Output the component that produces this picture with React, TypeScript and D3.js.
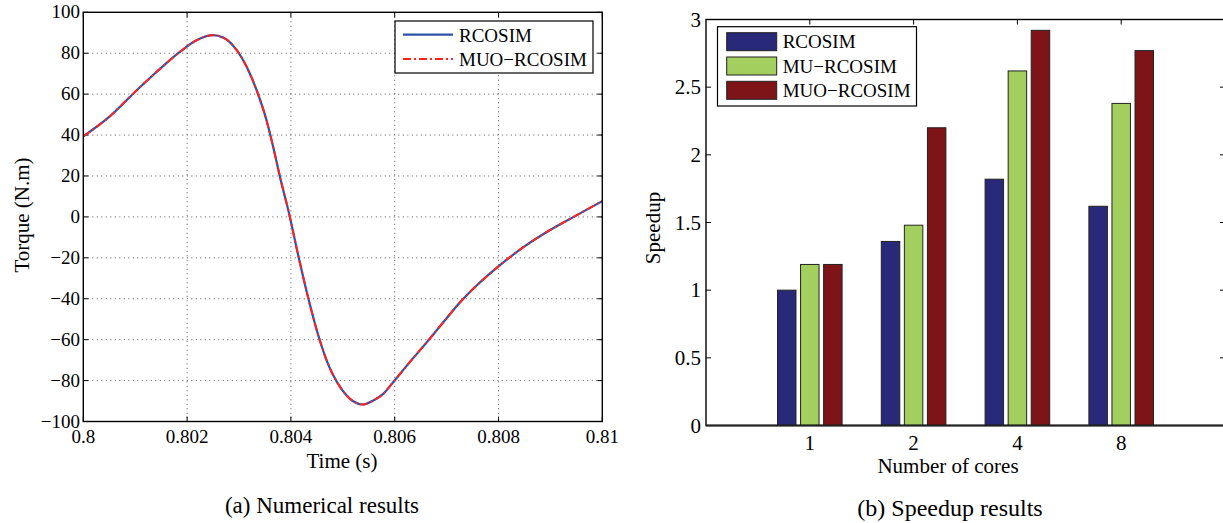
import React, { useRef, useEffect } from 'react'
import * as d3 from 'd3'

// torque trace (time in s, torque in N.m)
const timeValues = [0.8, 0.80051, 0.80096, 0.80141, 0.80186, 0.80218, 0.8025, 0.8027, 0.80296, 0.80315, 0.80334, 0.80353, 0.80366, 0.80379, 0.80395, 0.80416, 0.80433, 0.8045, 0.80469, 0.80495, 0.8052, 0.80539, 0.80559, 0.80578, 0.80597, 0.80629, 0.80662, 0.80694, 0.80726, 0.80758, 0.80797, 0.80848, 0.80893, 0.80944, 0.81]
const rcosimTorque = [39.4, 49.1, 60.2, 70.8, 80.6, 86.3, 88.8, 87.6, 81.4, 73.3, 61.9, 47.2, 34.1, 19.5, 3.2, -20.9, -39.2, -55.5, -70.2, -83.2, -90.1, -91.7, -89.7, -86.5, -80.8, -71.0, -61.2, -51.4, -41.7, -33.5, -24.8, -14.8, -7.4, -0.1, 7.7]
const muoRcosimTorque = [39.4, 49.1, 60.2, 70.8, 80.6, 86.3, 88.8, 87.6, 81.4, 73.3, 61.9, 47.2, 34.1, 19.5, 3.2, -20.9, -39.2, -55.5, -70.2, -83.2, -90.1, -91.7, -89.7, -86.5, -80.8, -71.0, -61.2, -51.4, -41.7, -33.5, -24.8, -14.8, -7.4, -0.1, 7.7]
const timeTicks = [0.8, 0.802, 0.804, 0.806, 0.808, 0.81]
const timeTickLabels = ['0.8', '0.802', '0.804', '0.806', '0.808', '0.81']
const torqueTicks = [-100, -80, -60, -40, -20, 0, 20, 40, 60, 80, 100]

// speedup bars
const cores = ['1', '2', '4', '8']
const speedupSeries = ['RCOSIM', 'MU\u2212RCOSIM', 'MUO\u2212RCOSIM']
const rcosimSpeedup = [1.0, 1.36, 1.82, 1.62]
const muRcosimSpeedup = [1.19, 1.48, 2.62, 2.38]
const muoRcosimSpeedup = [1.19, 2.2, 2.92, 2.77]
const speedupTicks = [0, 0.5, 1, 1.5, 2, 2.5, 3]
const barColors = ['#29297a', '#a3cf5f', '#7e1417']

const FONT = '"Liberation Serif", "Times New Roman", serif'

const App = () => {
  const svgRef = useRef()

  useEffect(() => {
    const svg = d3.select(svgRef.current)
    svg.selectAll('*').remove()
    const tickLen = 5

    // ---------- (a) torque ----------
    const x = d3.scaleLinear().domain([0.8, 0.81]).range([83.3, 602.3])
    const y = d3.scaleLinear().domain([-100, 100]).range([421.5, 12.3])
    const a = svg.append('g')

    // dotted grid
    a.selectAll('.gx').data(timeTicks.slice(1, -1)).join('line')
      .attr('x1', d => x(d)).attr('x2', d => x(d))
      .attr('y1', y(100)).attr('y2', y(-100))
      .attr('stroke', '#555').attr('stroke-width', 1).attr('stroke-dasharray', '1 3.5')
    a.selectAll('.gy').data(torqueTicks.slice(1, -1)).join('line')
      .attr('y1', d => y(d)).attr('y2', d => y(d))
      .attr('x1', x(0.8)).attr('x2', x(0.81))
      .attr('stroke', '#555').attr('stroke-width', 1).attr('stroke-dasharray', '1 3.5')

    // ticks, inward on all sides
    timeTicks.forEach(t => {
      a.append('line').attr('x1', x(t)).attr('x2', x(t)).attr('y1', y(-100)).attr('y2', y(-100) - tickLen).attr('stroke', '#000')
      a.append('line').attr('x1', x(t)).attr('x2', x(t)).attr('y1', y(100)).attr('y2', y(100) + tickLen).attr('stroke', '#000')
    })
    torqueTicks.forEach(t => {
      a.append('line').attr('y1', y(t)).attr('y2', y(t)).attr('x1', x(0.8)).attr('x2', x(0.8) + tickLen).attr('stroke', '#000')
      a.append('line').attr('y1', y(t)).attr('y2', y(t)).attr('x1', x(0.81)).attr('x2', x(0.81) - tickLen).attr('stroke', '#000')
    })

    const line = d3.line().curve(d3.curveMonotoneX)
    a.append('path')
      .attr('d', line(timeValues.map((t, i) => [x(t), y(rcosimTorque[i])])))
      .attr('fill', 'none').attr('stroke', '#2d52a8').attr('stroke-width', 2.2)
    a.append('path')
      .attr('d', line(timeValues.map((t, i) => [x(t), y(muoRcosimTorque[i])])))
      .attr('fill', 'none').attr('stroke', '#ff2222').attr('stroke-width', 2)
      .attr('stroke-dasharray', '8 3 2 3')

    a.append('rect').attr('x', x(0.8)).attr('y', y(100))
      .attr('width', x(0.81) - x(0.8)).attr('height', y(-100) - y(100))
      .attr('fill', 'none').attr('stroke', '#000').attr('stroke-width', 1.4)

    a.selectAll('.tx').data(timeTicks).join('text')
      .attr('x', d => x(d)).attr('y', 443).attr('text-anchor', 'middle')
      .attr('font-family', FONT).attr('font-size', 19)
      .text((d, i) => timeTickLabels[i])
    a.selectAll('.ty').data(torqueTicks).join('text')
      .attr('x', 80).attr('y', d => y(d) + 6).attr('text-anchor', 'end')
      .attr('font-family', FONT).attr('font-size', 19)
      .text(d => (d < 0 ? '\u2212' + Math.abs(d) : String(d)))

    a.append('text').attr('x', 342).attr('y', 468).attr('text-anchor', 'middle')
      .attr('font-family', FONT).attr('font-size', 21).text('Time (s)')
    a.append('text').attr('transform', 'translate(29,215) rotate(-90)').attr('text-anchor', 'middle')
      .attr('font-family', FONT).attr('font-size', 21).text('Torque (N.m)')
    a.append('text').attr('x', 322).attr('y', 513).attr('text-anchor', 'middle')
      .attr('font-family', FONT).attr('font-size', 23).text('(a) Numerical results')

    // legend (a)
    const la = a.append('g')
    la.append('rect').attr('x', 395).attr('y', 21).attr('width', 198).attr('height', 52)
      .attr('fill', '#fff').attr('stroke', '#000').attr('stroke-width', 1.2)
    la.append('line').attr('x1', 403).attr('x2', 453).attr('y1', 34.7).attr('y2', 34.7)
      .attr('stroke', '#2d52a8').attr('stroke-width', 2.2)
    la.append('line').attr('x1', 403).attr('x2', 453).attr('y1', 59).attr('y2', 59)
      .attr('stroke', '#ff2222').attr('stroke-width', 2).attr('stroke-dasharray', '8 3 2 3')
    la.append('text').attr('x', 459).attr('y', 41.5).attr('font-family', FONT).attr('font-size', 19).text('RCOSIM')
    la.append('text').attr('x', 459).attr('y', 66).attr('font-family', FONT).attr('font-size', 19).text('MUO\u2212RCOSIM')

    // ---------- (b) speedup ----------
    const xb = d3.scaleLinear().domain([0, 5]).range([706, 1225])
    const yb = d3.scaleLinear().domain([0, 3]).range([425.5, 19.5])
    const b = svg.append('g')
    const unit = xb(1) - xb(0)
    const slot = 0.2222
    const barW = 0.178 * unit
    const seriesValues = [rcosimSpeedup, muRcosimSpeedup, muoRcosimSpeedup]

    seriesValues.forEach((vals, s) => {
      b.selectAll('.bar' + s).data(vals).join('rect')
        .attr('x', (d, i) => xb(i + 1) + (s - 1) * slot * unit - barW / 2)
        .attr('y', d => yb(d))
        .attr('width', barW)
        .attr('height', d => yb(0) - yb(d))
        .attr('fill', barColors[s]).attr('stroke', '#222').attr('stroke-width', 1)
    })

    speedupTicks.forEach(t => {
      b.append('line').attr('y1', yb(t)).attr('y2', yb(t)).attr('x1', xb(0)).attr('x2', xb(0) + tickLen).attr('stroke', '#000')
      b.append('line').attr('y1', yb(t)).attr('y2', yb(t)).attr('x1', xb(5)).attr('x2', xb(5) - tickLen).attr('stroke', '#000')
    })
    cores.forEach((c, i) => {
      b.append('line').attr('x1', xb(i + 1)).attr('x2', xb(i + 1)).attr('y1', yb(3)).attr('y2', yb(3) + tickLen).attr('stroke', '#000')
    })
    b.append('rect').attr('x', xb(0)).attr('y', yb(3))
      .attr('width', xb(5) - xb(0)).attr('height', yb(0) - yb(3))
      .attr('fill', 'none').attr('stroke', '#000').attr('stroke-width', 1.4)
    b.append('line').attr('x1', xb(0)).attr('x2', xb(5)).attr('y1', yb(0)).attr('y2', yb(0))
      .attr('stroke', '#222').attr('stroke-width', 2)

    b.selectAll('.tyb').data(speedupTicks).join('text')
      .attr('x', 701).attr('y', d => yb(d) + 7).attr('text-anchor', 'end')
      .attr('font-family', FONT).attr('font-size', 21)
      .text(d => String(d))
    b.selectAll('.txb').data(cores).join('text')
      .attr('x', (d, i) => xb(i + 1)).attr('y', 450).attr('text-anchor', 'middle')
      .attr('font-family', FONT).attr('font-size', 21)
      .text(d => d)

    b.append('text').attr('x', 948).attr('y', 473).attr('text-anchor', 'middle')
      .attr('font-family', FONT).attr('font-size', 21).text('Number of cores')
    b.append('text').attr('transform', 'translate(660,228) rotate(-90)').attr('text-anchor', 'middle')
      .attr('font-family', FONT).attr('font-size', 21).text('Speedup')
    b.append('text').attr('x', 950).attr('y', 516).attr('text-anchor', 'middle')
      .attr('font-family', FONT).attr('font-size', 24).text('(b) Speedup results')

    // legend (b)
    const lb = b.append('g')
    lb.append('rect').attr('x', 717.5).attr('y', 26.7).attr('width', 199).attr('height', 79.3)
      .attr('fill', '#fff').attr('stroke', '#000').attr('stroke-width', 1.2)
    speedupSeries.forEach((name, s) => {
      const top = 32.7 + s * 24.3
      lb.append('rect').attr('x', 726.7).attr('y', top).attr('width', 50).attr('height', 18)
        .attr('fill', barColors[s]).attr('stroke', '#222').attr('stroke-width', 1)
      lb.append('text').attr('x', 782.7).attr('y', top + 15.5)
        .attr('font-family', FONT).attr('font-size', 19).text(name)
    })
  }, [])

  return (
    <svg ref={svgRef} width={1223} height={523}
      style={{ position: 'absolute', left: 0, top: 0, background: '#fff' }} />
  )
}

export default App
